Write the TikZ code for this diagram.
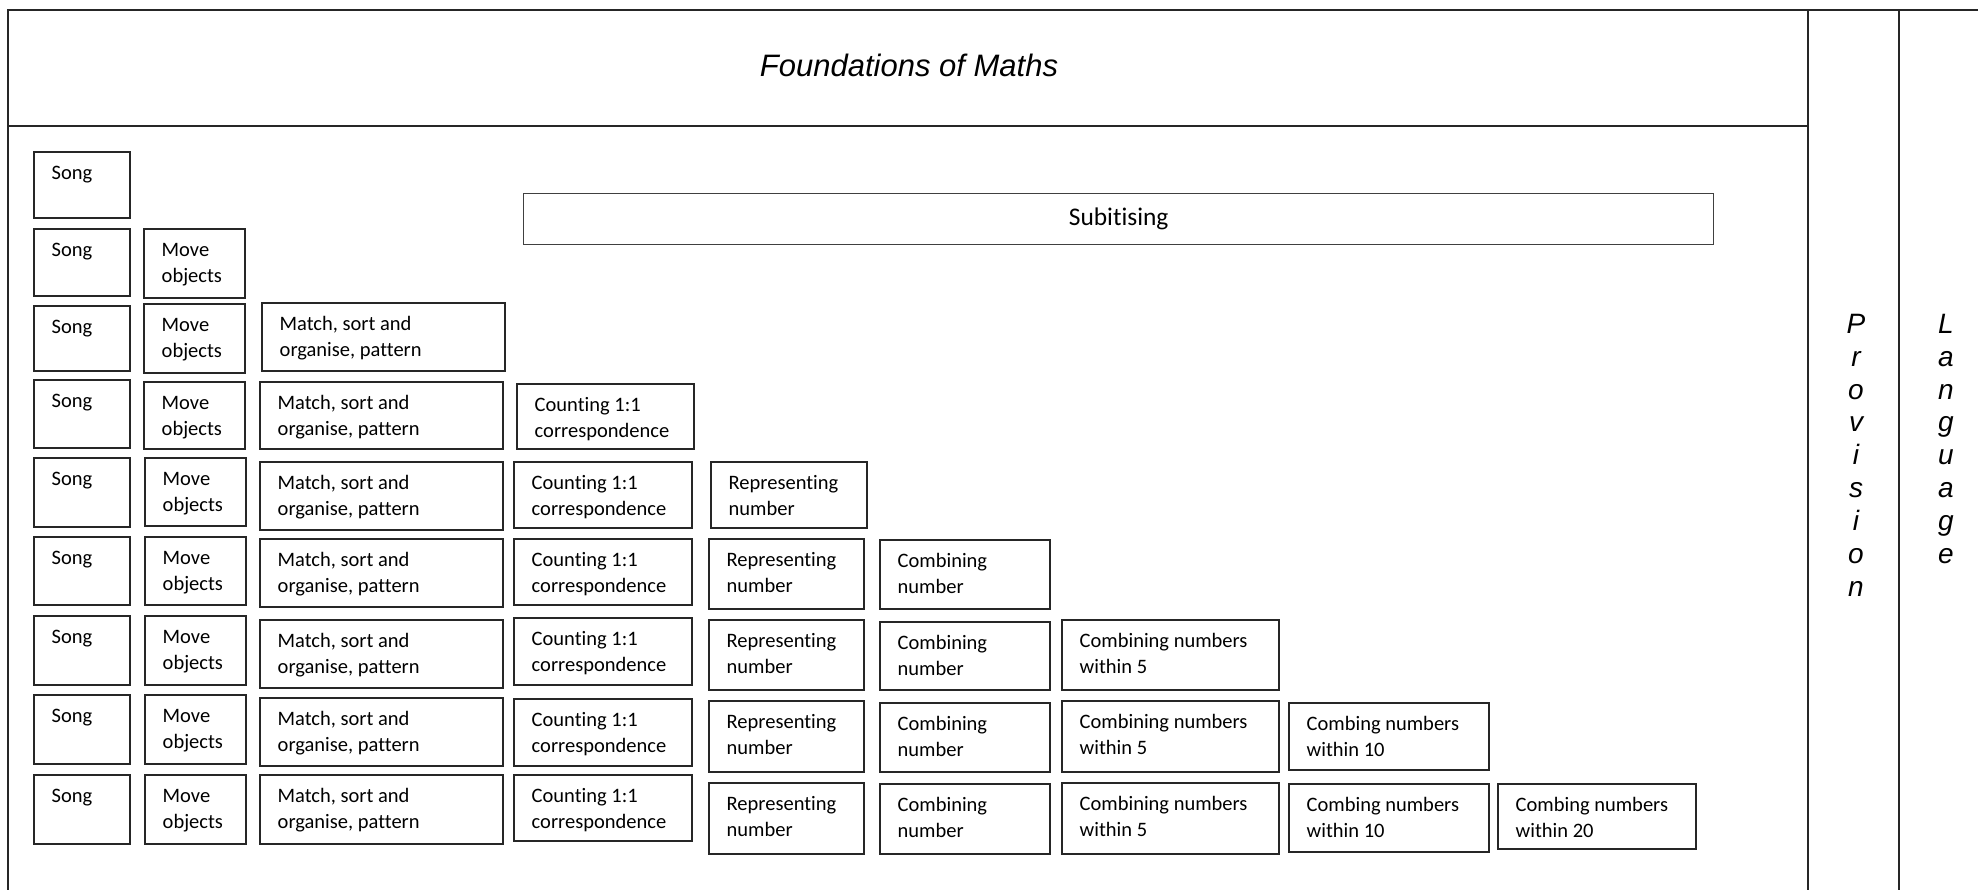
\documentclass[tikz,border=0pt]{standalone}
\usepackage{fontspec}
\setmainfont[Ligatures=NoCommon]{Carlito}
\newfontfamily\arialf{Liberation Sans}
\usetikzlibrary{calc}

\tikzset{
  cell/.style={draw=black!85, line width=1.8pt, inner sep=0pt},
  celltext/.style={inner sep=0pt, align=left, font=\fontsize{20.5}{26}\selectfont},
  frameline/.style={line width=1.8pt, draw=black!85},
  sideletters/.style={inner sep=0pt, align=center, font=\arialf\itshape\fontsize{28}{32.9}\selectfont},
  titletext/.style={inner sep=0pt, font=\arialf\itshape\fontsize{31}{37}\selectfont},
  subbox/.style={draw=black!75, line width=1.3pt, inner sep=0pt, font=\fontsize{25.4}{30}\selectfont},
}

\newcommand\bx[6]{%
  \node[cell, minimum width={(#4)-(#2)}, minimum height={(#5)-(#3)}, anchor=north west] (#1) at (#2,#3) {};
  \node[celltext, anchor=north west] (#1t) at ([xshift=18.5pt,yshift=-10.3pt]#1.north west) {\strut #6};
}

\begin{document}
\begin{tikzpicture}[x=1pt,y=-1pt]
\useasboundingbox (0,0) rectangle (1978,890);

% frame
\coordinate (tr) at (1978,10);
\coordinate (tl) at (8,10);
\coordinate (bl) at (8,890);
\coordinate (hl) at (8,126);
\coordinate (hr) at (1808,126);
\coordinate (p1t) at (1808,10);
\coordinate (p1b) at (1808,890);
\coordinate (p2t) at (1899,10);
\coordinate (p2b) at (1899,890);
\draw[frameline] (tr) -- (tl) -- (bl);
\draw[frameline] (hl) -- (hr);
\draw[frameline] (p1t) -- (p1b);
\draw[frameline] (p2t) -- (p2b);

\node[titletext, anchor=base] (title) at (909,76.7) {Foundations of Maths};

\node[sideletters, anchor=north] (prov) at (1856,310) {\strut P\\r\\o\\v\\i\\s\\i\\o\\n};
\node[sideletters, anchor=north] (lang) at (1946,310) {\strut L\\a\\n\\g\\u\\a\\g\\e};

\node[subbox, minimum width=1190pt, minimum height=51pt, anchor=north west] (sub) at (523,193) {Subitising};

% Song column
\bx{s1}{33}{151}{129}{217}{Song}
\bx{s2}{33}{228}{129}{295}{Song}
\bx{s3}{33}{305}{129}{370}{Song}
\bx{s4}{33}{379}{129}{447}{Song}
\bx{s5}{33}{457}{129}{526}{Song}
\bx{s6}{33}{536}{129}{604}{Song}
\bx{s7}{33}{615}{129}{684}{Song}
\bx{s8}{33}{694}{129}{763}{Song}
\bx{s9}{33}{774}{129}{843}{Song}

% Move objects
\bx{m2}{143}{228}{244}{297}{Move\\objects}
\bx{m3}{143}{303}{244}{372}{Move\\objects}
\bx{m4}{143}{381}{244}{448}{Move\\objects}
\bx{m5}{144}{457}{245}{525}{Move\\objects}
\bx{m6}{144}{536}{245}{604}{Move\\objects}
\bx{m7}{144}{615}{245}{684}{Move\\objects}
\bx{m8}{144}{694}{245}{763}{Move\\objects}
\bx{m9}{144}{774}{245}{843}{Move\\objects}

% Match, sort and organise
\bx{a3}{261}{302}{504}{370}{Match, sort and\\organise, pattern}
\bx{a4}{259}{381}{502}{448}{Match, sort and\\organise, pattern}
\bx{a5}{259}{461}{502}{529}{Match, sort and\\organise, pattern}
\bx{a6}{259}{538}{502}{606}{Match, sort and\\organise, pattern}
\bx{a7}{259}{619}{502}{687}{Match, sort and\\organise, pattern}
\bx{a8}{259}{697}{502}{765}{Match, sort and\\organise, pattern}
\bx{a9}{259}{774}{502}{843}{Match, sort and\\organise, pattern}

% Counting
\bx{c4}{516}{383}{693}{448}{Counting 1:1\\correspondence}
\bx{c5}{513}{461}{691}{527}{Counting 1:1\\correspondence}
\bx{c6}{513}{538}{691}{604}{Counting 1:1\\correspondence}
\bx{c7}{513}{617}{691}{684}{Counting 1:1\\correspondence}
\bx{c8}{513}{698}{691}{765}{Counting 1:1\\correspondence}
\bx{c9}{513}{774}{691}{840}{Counting 1:1\\correspondence}

% Representing number
\bx{r5}{710}{461}{866}{527}{Representing\\number}
\bx{r6}{708}{538}{863}{608}{Representing\\number}
\bx{r7}{708}{619}{863}{689}{Representing\\number}
\bx{r8}{708}{700}{863}{771}{Representing\\number}
\bx{r9}{708}{782}{863}{853}{Representing\\number}

% Combining number
\bx{n6}{879}{539}{1049}{608}{Combining\\number}
\bx{n7}{879}{621}{1049}{689}{Combining\\number}
\bx{n8}{879}{702}{1049}{771}{Combining\\number}
\bx{n9}{879}{783}{1049}{853}{Combining\\number}

% Combining numbers within 5
\bx{f7}{1061}{619}{1278}{689}{Combining numbers\\within 5}
\bx{f8}{1061}{700}{1278}{771}{Combining numbers\\within 5}
\bx{f9}{1061}{782}{1278}{853}{Combining numbers\\within 5}

% Combing numbers within 10
\bx{t8}{1288}{702}{1488}{769}{Combing numbers\\within 10}
\bx{t9}{1288}{783}{1488}{851}{Combing numbers\\within 10}

% Combing numbers within 20
\bx{w9}{1497}{783}{1695}{848}{Combing numbers\\within 20}
\end{tikzpicture}
\end{document}
